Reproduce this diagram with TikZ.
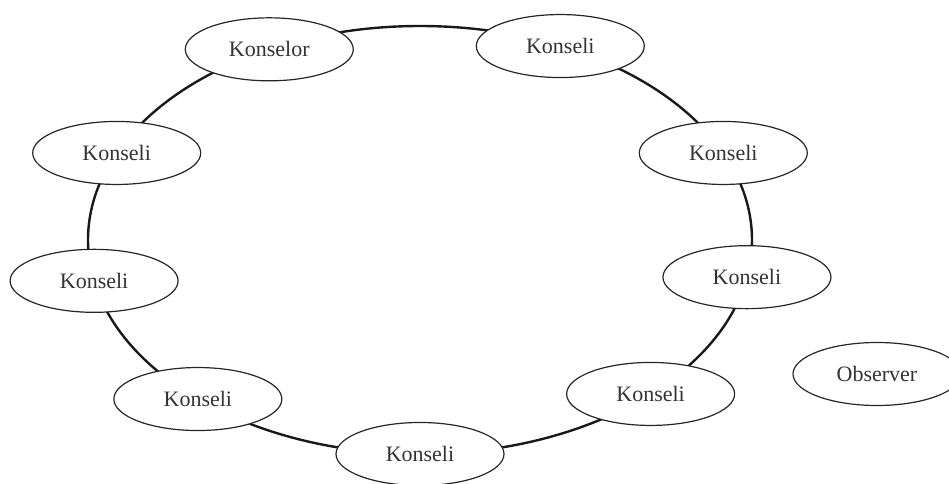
\documentclass[tikz,border=0pt]{standalone}
\usepackage{fontspec}
\setmainfont{Liberation Serif}
\usetikzlibrary{shapes.geometric}
\usetikzlibrary{calc}

\begin{document}
\begin{tikzpicture}[x=0.5pt, y=0.5pt,
  member/.style={ellipse, draw=black!85, line width=0.6pt, fill=white, inner sep=0pt,
    minimum width=84pt, minimum height=31.5pt, font=\fontsize{11}{13}\selectfont, text=black!80},
  ring/.style={line width=1.2pt, draw=black!90}]

\useasboundingbox (0,0) rectangle (949,483);

\coordinate (c) at (420,243);
\draw[ring] (c) ellipse [x radius=166pt, y radius=107pt];

\node[member] (konselor) at ($(c)+(117:332 and 214)$) {Konselor};

\foreach \a/\n in {65/k1,24/k2,-10/k3,-46/k4,-90/k5,-132/k6,-169/k7,156/k8}
{
\node[member] (\n) at ($(c)+(\a:332 and 214)$) {Konseli};
}

\node[member] (observer) at (877,109) {Observer};
\end{tikzpicture}
\end{document}
